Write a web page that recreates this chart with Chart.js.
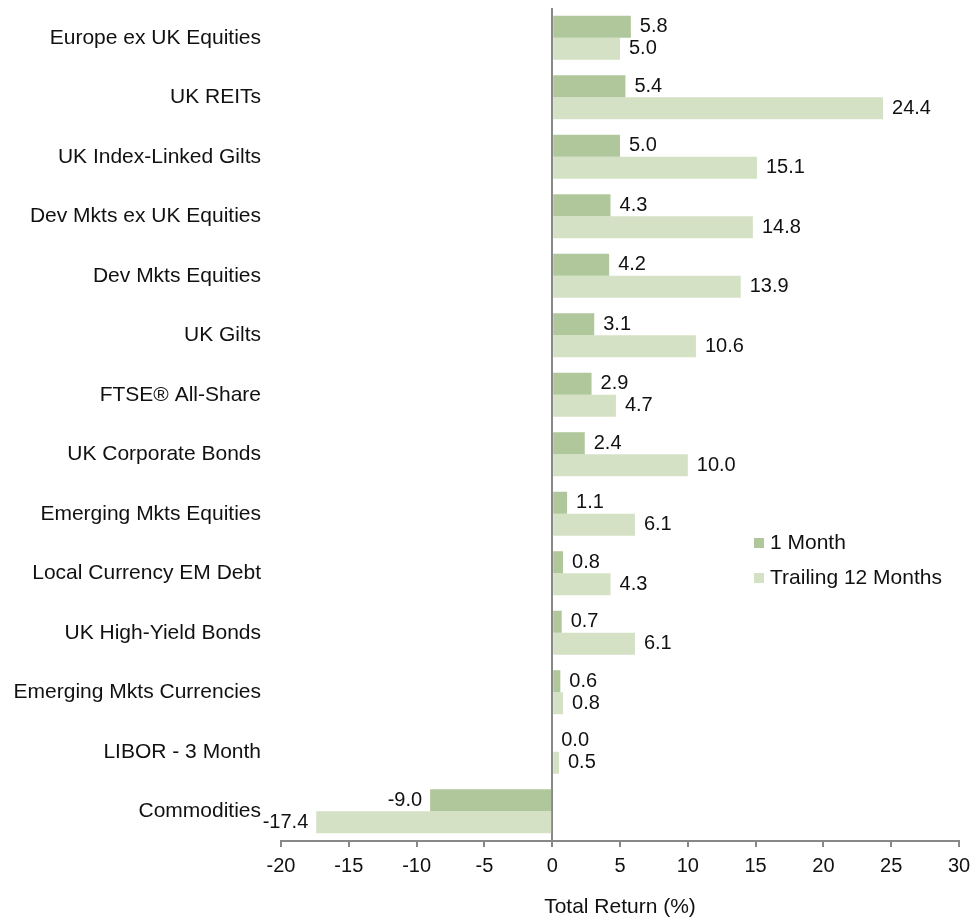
<!DOCTYPE html>
<html>
<head>
<meta charset="utf-8">
<script src="https://cdn.jsdelivr.net/npm/chart.js@4"></script>
<style>
  html, body { margin: 0; padding: 0; background: #fff; }
  #wrap { width: 971px; height: 920px; }
</style>
</head>
<body>
<div id="wrap"><canvas id="myChart" width="971" height="920"></canvas></div>
<script>
// chart data
const categories = [
    "Europe ex UK Equities", "UK REITs", "UK Index-Linked Gilts", "Dev Mkts ex UK Equities",
    "Dev Mkts Equities", "UK Gilts", "FTSE® All-Share", "UK Corporate Bonds",
    "Emerging Mkts Equities", "Local Currency EM Debt", "UK High-Yield Bonds",
    "Emerging Mkts Currencies", "LIBOR - 3 Month", "Commodities"
];
const oneMonth = [5.8, 5.4, 5.0, 4.3, 4.2, 3.1, 2.9, 2.4, 1.1, 0.8, 0.7, 0.6, 0.0, -9.0];
const trailing12 = [5.0, 24.4, 15.1, 14.8, 13.9, 10.6, 4.7, 10.0, 6.1, 4.3, 6.1, 0.8, 0.5, -17.4];
const xTicks = [-20, -15, -10, -5, 0, 5, 10, 15, 20, 25, 30];

const FONT = "'Liberation Sans', Arial, sans-serif";

// value labels next to each bar
let valueLabels = {
    id: 'valueLabels',
    afterDatasetsDraw(chart) {
        let ctx = chart.ctx;
        ctx.save();
        ctx.font = "20px " + FONT;
        ctx.fillStyle = '#111';
        ctx.textBaseline = 'middle';
        chart.data.datasets.forEach((ds, i) => {
            chart.getDatasetMeta(i).data.forEach((bar, j) => {
                let v = ds.data[j];
                if (v < 0) {
                    ctx.textAlign = 'right';
                    ctx.fillText(v.toFixed(1), bar.x - 8, bar.y);
                } else {
                    ctx.textAlign = 'left';
                    ctx.fillText(v.toFixed(1), bar.x + 9, bar.y);
                }
            });
        });
        ctx.restore();
    }
};

// legend inside the plot
let innerLegend = {
    id: 'innerLegend',
    afterDraw(chart) {
        let ctx = chart.ctx;
        ctx.save();
        ctx.font = "21px " + FONT;
        ctx.textBaseline = 'middle';
        ctx.textAlign = 'left';
        chart.data.datasets.forEach((ds, i) => {
            let y = 543 + i * 35;
            ctx.fillStyle = ds.backgroundColor;
            ctx.fillRect(754, y - 5, 10, 10);
            ctx.fillStyle = '#111';
            ctx.fillText(ds.label, 770, y);
        });
        ctx.restore();
    }
};

let ctx = document.getElementById('myChart').getContext('2d');
let chart = new Chart(ctx, {
    type: 'bar',
    data: {
        labels: categories,
        datasets: [{
            label: "1 Month",
            backgroundColor: '#afc79b',
            data: oneMonth,
            barPercentage: 1,
            categoryPercentage: 0.74
        }, {
            label: "Trailing 12 Months",
            backgroundColor: '#d4e1c5',
            data: trailing12,
            barPercentage: 1,
            categoryPercentage: 0.74
        }]
    },
    options: {
        indexAxis: 'y',
        responsive: false,
        animation: false,
        layout: { padding: { top: 8, right: 12, left: 0, bottom: 0 } },
        plugins: {
            legend: { display: false },
            tooltip: { enabled: false }
        },
        scales: {
            x: {
                min: -20,
                max: 30,
                afterBuildTicks: (axis) => { axis.ticks = xTicks.map(v => ({ value: v })); },
                afterFit: (axis) => {
                    axis.height = 79;
                    axis.paddingLeft = 0;
                    axis.paddingRight = 0;
                },
                border: { display: true, color: '#888', width: 2 },
                grid: {
                    color: (c) => (c.tick && c.tick.value === 0) ? '#888' : 'rgba(0,0,0,0)',
                    lineWidth: 2,
                    tickColor: '#888',
                    tickLength: 6,
                    drawTicks: true
                },
                ticks: {
                    color: '#111',
                    font: { family: FONT, size: 20 },
                    padding: 7,
                    maxRotation: 0
                },
                title: {
                    display: true,
                    text: 'Total Return (%)',
                    color: '#111',
                    font: { family: FONT, size: 21 },
                    padding: { top: 10, bottom: 0 }
                }
            },
            y: {
                afterFit: (axis) => {
                    axis.width = 281;
                    axis.paddingTop = 0;
                    axis.paddingBottom = 0;
                },
                border: { display: false },
                grid: { display: false, drawTicks: false },
                ticks: {
                    color: '#111',
                    font: { family: FONT, size: 21 },
                    padding: 20,
                    autoSkip: false
                }
            }
        }
    },
    plugins: [valueLabels, innerLegend]
});
</script>
</body>
</html>
